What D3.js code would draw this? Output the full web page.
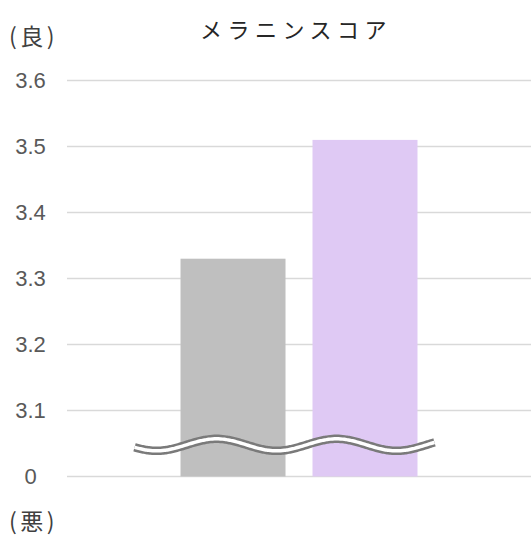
<!DOCTYPE html>
<html>
<head>
<meta charset="utf-8">
<script src="https://cdn.jsdelivr.net/npm/d3@7"></script>
<style>
  body { margin: 0; background: #fff; }
  svg { display: block; }
</style>
</head>
<body>
<svg id="chart" width="531" height="536"></svg>
<script>
// chart data
const title = 'メラニンスコア';
const series = ['A', 'B'];
const values = [3.33, 3.51];
const colors = ['#bfbfbf', '#dfc9f4'];
const tickValues = [3.0, 3.1, 3.2, 3.3, 3.4, 3.5, 3.6];
const tickLabels = ['0', '3.1', '3.2', '3.3', '3.4', '3.5', '3.6'];
const topLabel = '(良)';
const bottomLabel = '(悪)';
const breakValue = 3.048; // where the axis break wave sits

const svg = d3.select('#chart');
const margin = { top: 80.5, right: 0, bottom: 59.5, left: 67 };
const width = 531, height = 536;

const y = d3.scaleLinear()
    .domain([3.0, 3.6])
    .range([height - margin.bottom, margin.top]);

// one category group, two bars inside it
const xGroup = d3.scaleBand()
    .domain(['g'])
    .range([margin.left, width - margin.right])
    .paddingOuter(0.479);
const xBar = d3.scaleBand()
    .domain(series)
    .range([0, xGroup.bandwidth()])
    .paddingInner(0.2045);

// gridlines
svg.append('g')
    .selectAll('line')
    .data(tickValues)
    .join('line')
    .attr('x1', margin.left)
    .attr('x2', width - margin.right)
    .attr('y1', d => y(d))
    .attr('y2', d => y(d))
    .attr('stroke', '#d9d9d9')
    .attr('stroke-width', 1.5);

// tick labels
svg.append('g')
    .selectAll('text')
    .data(tickValues)
    .join('text')
    .attr('x', 30.5)
    .attr('y', d => y(d))
    .attr('dy', '0.36em')
    .attr('text-anchor', 'middle')
    .attr('font-family', 'Liberation Sans, Arial, sans-serif')
    .attr('font-size', 22)
    .attr('fill', '#595959')
    .text((d, i) => tickLabels[i]);

// bars
svg.append('g')
    .selectAll('rect')
    .data(values)
    .join('rect')
    .attr('x', (d, i) => xGroup('g') + xBar(series[i]))
    .attr('width', xBar.bandwidth())
    .attr('y', d => y(d))
    .attr('height', d => y(3.0) - y(d))
    .attr('fill', (d, i) => colors[i]);

// axis break wave
const waveStart = xGroup('g') - 46;
const waveEnd = xGroup('g') + xGroup.bandwidth() + 17;
const wavePeriod = 120;
const wavePhase = xGroup('g') + 6; // peak sits ~36px into the group
const wavePts = d3.range(waveStart, waveEnd + 1, 2).map(x =>
    [x, y(breakValue) - 6 * Math.sin(2 * Math.PI * (x - wavePhase) / wavePeriod)]);
const waveLine = d3.line().curve(d3.curveBasis);

svg.append('path')
    .attr('d', waveLine(wavePts))
    .attr('fill', 'none')
    .attr('stroke', '#7a7a7a')
    .attr('stroke-width', 8.5)
    .attr('stroke-linecap', 'butt');
svg.append('path')
    .attr('d', waveLine(wavePts))
    .attr('fill', 'none')
    .attr('stroke', '#ffffff')
    .attr('stroke-width', 3.5);

// title
svg.append('text')
    .attr('x', 200)
    .attr('y', 38)
    .attr('font-family', 'Noto Sans CJK JP, sans-serif')
    .attr('font-size', 22)
    .attr('letter-spacing', 5.5)
    .attr('fill', '#262626')
    .text(title);

// good / bad labels
svg.append('text')
    .attr('x', 9)
    .attr('y', 45)
    .attr('font-family', 'Noto Sans CJK JP, sans-serif')
    .attr('font-size', 23)
    .attr('letter-spacing', 3.5)
    .attr('fill', '#404040')
    .text(topLabel);
svg.append('text')
    .attr('x', 9)
    .attr('y', 530)
    .attr('font-family', 'Noto Sans CJK JP, sans-serif')
    .attr('font-size', 23)
    .attr('letter-spacing', 3.5)
    .attr('fill', '#404040')
    .text(bottomLabel);
</script>
</body>
</html>
